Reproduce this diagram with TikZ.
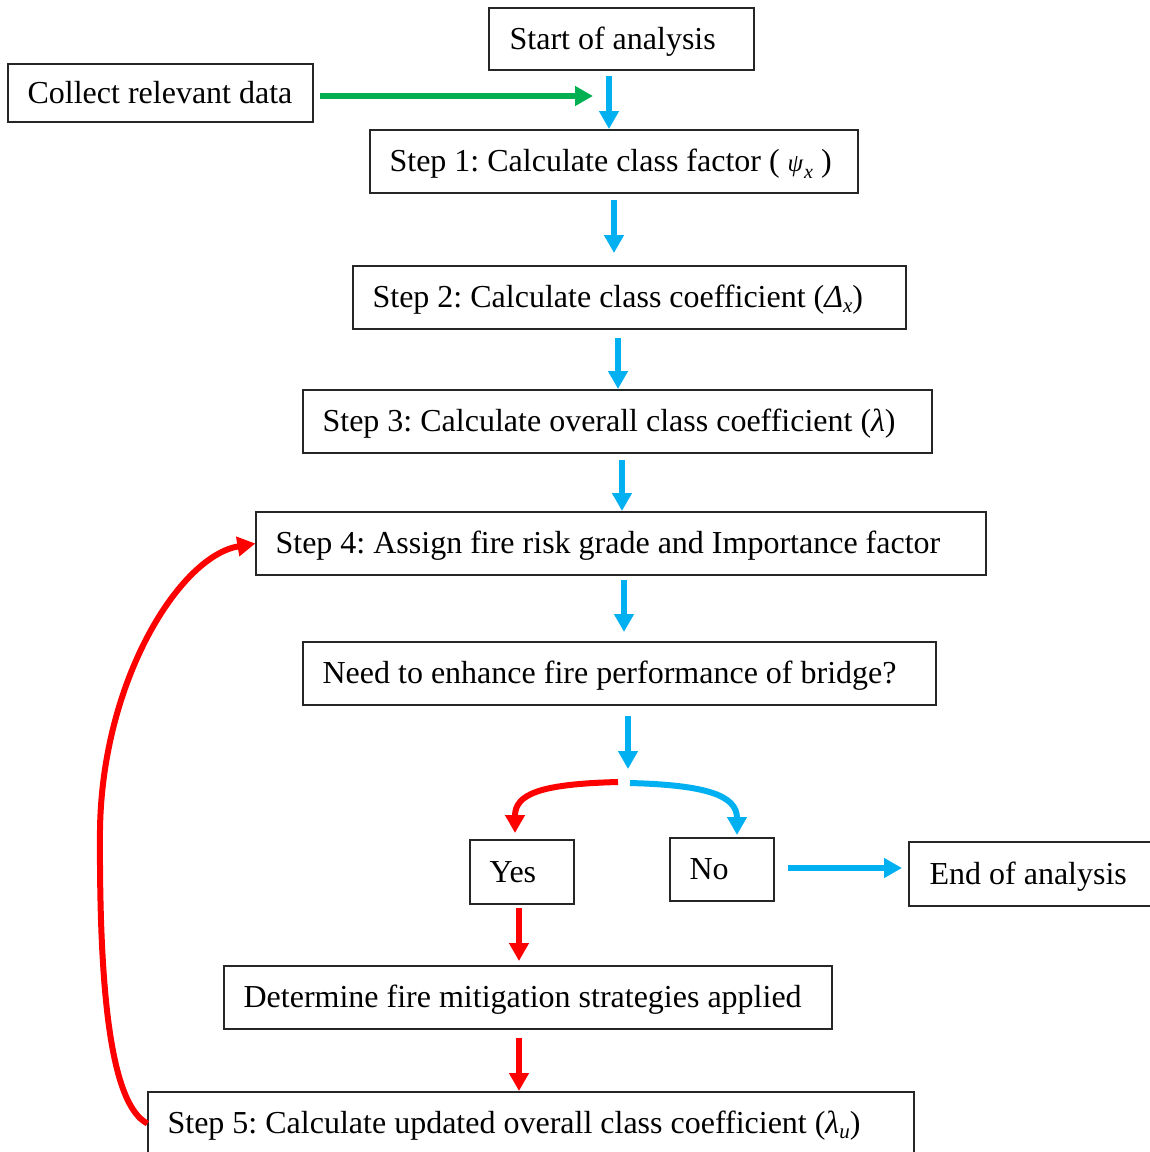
\documentclass[tikz,border=0pt]{standalone}
\usepackage{fontspec}
\setmainfont{Liberation Serif}
\usetikzlibrary{arrows.meta,calc}
\definecolor{myblue}{RGB}{0,176,240}
\definecolor{myred}{RGB}{255,0,0}
\definecolor{mygreen}{RGB}{0,176,80}
\newcommand\mysub[1]{\raisebox{-5pt}{\fontsize{21}{21}\selectfont\itshape #1}}
\frenchspacing
\tikzset{
  box/.style n args={2}{draw=black!85, line width=1.2pt, minimum width=#1, minimum height=#2,
     inner sep=0pt},
  txt/.style={anchor=base west, inner sep=0pt, font=\fontsize{32}{38}\selectfont},
  arrbase/.style={line width=6pt, -{Triangle[length=18pt,width=19pt]}},
  barrow/.style={arrbase, draw=myblue},
  rarrow/.style={arrbase, draw=myred},
  garrow/.style={arrbase, draw=mygreen},
}
\newcommand\boxtext[3][20]{\node[txt] at ($(#2.west)+(#1,10)$) {#3};}
\begin{document}
\begin{tikzpicture}[x=1pt,y=-1pt]
\useasboundingbox (0,0) rectangle (1150,1152);
\fill[white] (0,0) rectangle (1150,1152);
\clip (0,0) rectangle (1150,1152);

\node[box={265pt}{62pt}] (start) at (621.5,39) {};
\boxtext[21]{start}{Start of analysis}
\node[box={305pt}{58pt}] (collect) at (160.5,93) {};
\boxtext{collect}{Collect relevant data}
\node[box={488pt}{63pt}] (s1) at (614,161.5) {};
\boxtext{s1}{Step 1: Calculate class factor ( {\itshape\fontsize{25}{28}\selectfont ψ}\kern1pt\raisebox{-7pt}{\fontsize{20}{20}\selectfont\itshape x} )}
\node[box={553pt}{63pt}] (s2) at (629.5,297.5) {};
\boxtext{s2}{Step 2: Calculate class coefficient ({\itshape Δ}\mysub{x})}
\node[box={629pt}{63pt}] (s3) at (617.5,421.5) {};
\boxtext{s3}{Step 3: Calculate overall class coefficient ({\itshape λ})}
\node[box={730pt}{63pt}] (s4) at (621,543.5) {};
\boxtext{s4}{Step 4: Assign fire risk grade and Importance factor}
\node[box={633pt}{63pt}] (need) at (619.5,673.5) {};
\boxtext{need}{Need to enhance fire performance of bridge?}
\node[box={104pt}{64pt}] (yes) at (522,872) {};
\boxtext{yes}{Yes}
\node[box={104pt}{63pt}] (no) at (722,869.5) {};
\boxtext[20]{no}{No}
\node[box={272pt}{64pt}] (end) at (1045,874) {};
\boxtext[21]{end}{End of analysis}
\node[box={608pt}{63pt}] (det) at (528,997.5) {};
\boxtext{det}{Determine fire mitigation strategies applied}
\node[box={766pt}{63pt}] (s5) at (531,1123.5) {};
\boxtext{s5}{Step 5: Calculate updated overall class coefficient ({\itshape λ}\mysub{u})}

% connector coordinates
\coordinate (g0) at (320,96);   \coordinate (g1) at (593,96);
\coordinate (b1a) at (609,76);  \coordinate (b1b) at (609,129);
\coordinate (b2a) at (614,200); \coordinate (b2b) at (614,253);
\coordinate (b3a) at (618,338); \coordinate (b3b) at (618,389);
\coordinate (b4a) at (622,460); \coordinate (b4b) at (622,511);
\coordinate (b5a) at (624,580); \coordinate (b5b) at (624,632);
\coordinate (b6a) at (628,716); \coordinate (b6b) at (628,769);
\coordinate (splitL) at (618,782); \coordinate (splitR) at (630,783);
\coordinate (yesTop) at (515,833); \coordinate (noTop) at (737,835);
\coordinate (b7a) at (788,868); \coordinate (b7b) at (902,868);
\coordinate (r1a) at (519,908); \coordinate (r1b) at (519,961);
\coordinate (r2a) at (519,1038); \coordinate (r2b) at (519,1091);

\draw[garrow] (g0) -- (g1);
\draw[barrow] (b1a) -- (b1b);
\draw[barrow] (b2a) -- (b2b);
\draw[barrow] (b3a) -- (b3b);
\draw[barrow] (b4a) -- (b4b);
\draw[barrow] (b5a) -- (b5b);
\draw[barrow] (b6a) -- (b6b);
\draw[rarrow] (splitL) .. controls (540,784) and (515,794) .. (yesTop);
\draw[barrow] (splitR) .. controls (705,785) and (737,795) .. (noTop);
\draw[barrow] (b7a) -- (b7b);
\draw[rarrow] (r1a) -- (r1b);
\draw[rarrow] (r2a) -- (r2b);
\draw[rarrow] (s5.west) .. controls (112,1105) and (99,1000) .. (100,830)
   .. controls (102,680) and (180,556) .. (s4.west);
\end{tikzpicture}
\end{document}
